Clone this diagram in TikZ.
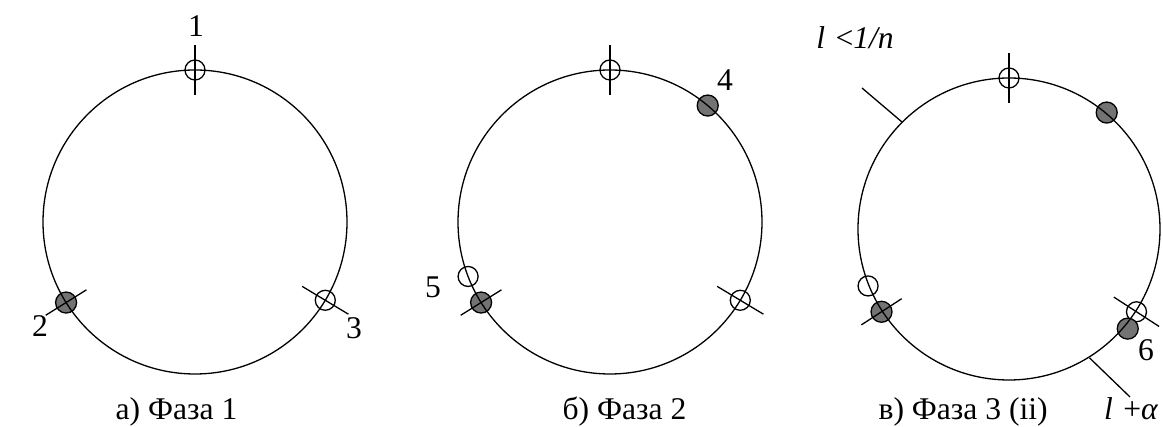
\documentclass[tikz,border=0pt]{standalone}
\usepackage{fontspec}
\setmainfont{Liberation Serif}
\usetikzlibrary{calc}

\begin{document}
\begin{tikzpicture}[x=0.5pt, y=0.5pt, line width=0.65pt,
            openmark/.style={circle, draw, inner sep=0pt, minimum size=10pt},
            fullmark/.style={circle, draw, fill=black!55, inner sep=0pt, minimum size=10.5pt},
            lbl/.style={font=\fontsize{15.8}{19}\selectfont, inner sep=0pt}]
            \useasboundingbox (0,0) rectangle (1163,427);
            \coordinate (c1) at (195,205);
            \coordinate (c2) at (610,205);
            \coordinate (c3) at (1009,198);

            \node[openmark] (a1) at ($(c1)+(90:152)$) {};
            \node[fullmark] (a2) at ($(c1)+(212:152)$) {};
            \node[openmark] (a3) at ($(c1)+(329:152)$) {};
            \draw (c1) circle (152);
            \draw ($(c1)+(90:127)$) -- ($(c1)+(90:177)$);
            \draw ($(c1)+(212:128)$) -- ($(c1)+(212:176)$);
            \draw ($(c1)+(329:125)$) -- ($(c1)+(329:179)$);
            \node[lbl] (n1) at (196,401) {1};
            \node[lbl] (n2) at (40,101) {2};
            \node[lbl] (n3) at (354,99) {3};
            \node[lbl, anchor=base west] (capa) at (115,7) {а) Фаза 1};

            \node[openmark] (b1) at ($(c2)+(90:152)$) {};
            \node[fullmark] (b4) at ($(c2)+(50:152)$) {};
            \node[openmark] (b5) at ($(c2)+(201:152)$) {};
            \node[fullmark] (b2) at ($(c2)+(212:152)$) {};
            \node[openmark] (b3) at ($(c2)+(329:152)$) {};
            \draw (c2) circle (152);
            \draw ($(c2)+(90:127)$) -- ($(c2)+(90:177)$);
            \draw ($(c2)+(212:128)$) -- ($(c2)+(212:176)$);
            \draw ($(c2)+(329:125)$) -- ($(c2)+(329:179)$);
            \node[lbl] (n4) at (725,347) {4};
            \node[lbl] (n5) at (433,140) {5};
            \node[lbl, anchor=base west] (capb) at (562,7) {б) Фаза 2};

            \node[openmark] (d1) at ($(c3)+(90:151)$) {};
            \node[fullmark] (d4) at ($(c3)+(50:152)$) {};
            \node[openmark] (d5) at ($(c3)+(202:152)$) {};
            \node[fullmark] (d2) at ($(c3)+(213:152)$) {};
            \node[openmark] (d3) at ($(c3)+(327:152)$) {};
            \node[fullmark] (d6) at ($(c3)+(320:155)$) {};
            \draw (c3) circle (151);
            \draw ($(c3)+(90:126)$) -- ($(c3)+(90:176)$);
            \draw ($(c3)+(213:128)$) -- ($(c3)+(213:176)$);
            \draw ($(c3)+(327:125)$) -- ($(c3)+(327:179)$);
            \coordinate (t1) at (862,339);
            \coordinate (t2) at (1130,30);
            \draw ($(c3)+(135:151)$) -- (t1);
            \draw ($(c3)+(302:152)$) -- (t2);
            \node[lbl] (n6) at (1146,77) {6};
            \node[lbl] (ln) at (855,389) {\textit{l}\,\,<\textit{1/n}};
            \node[lbl, anchor=base east] (la) at (1159,7) {\textit{l}\,\,+\textit{α}};
            \node[lbl, anchor=base west] (capc) at (878,7) {в) Фаза 3 (ii)};
        \end{tikzpicture}
\end{document}
